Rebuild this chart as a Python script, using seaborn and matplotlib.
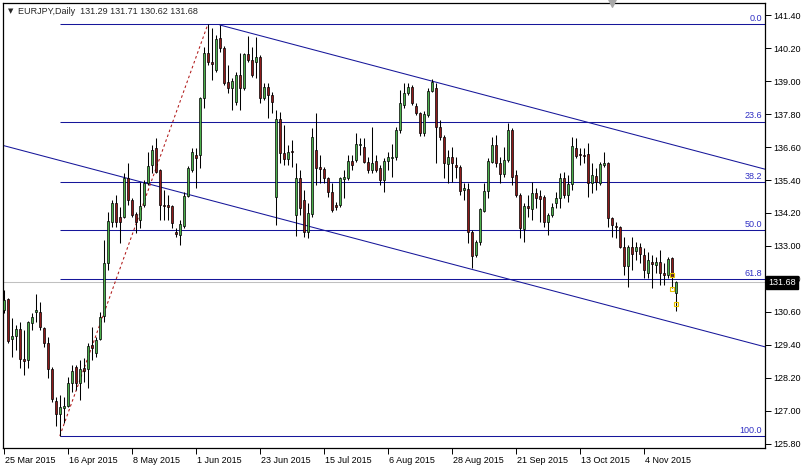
import numpy as np
import pandas as pd
import matplotlib
matplotlib.use("Agg")
import matplotlib.pyplot as plt
import matplotlib.transforms as mtransforms
import seaborn as sns

# EURJPY daily candles, 25 Mar 2015 .. 16 Nov 2015
opens = [130.67, 131.07, 129.62, 129.73, 129.98, 128.89, 128.85, 130.20, 130.60, 130.60,
         130.02, 129.47, 128.53, 127.36, 126.89, 127.11, 127.18, 128.02, 128.60, 128.02,
         128.56, 128.53, 129.40, 129.11, 129.62, 130.45, 132.38, 133.87, 134.56, 134.05,
         134.05, 135.47, 134.67, 134.16, 133.95, 134.49, 135.29, 135.95, 136.56, 135.76,
         134.49, 134.49, 134.45, 133.51, 133.40, 133.73, 134.82, 135.76, 136.31, 136.31,
         138.38, 140.02, 139.69, 139.40, 140.56, 140.20, 138.96, 138.75, 138.24, 139.22,
         138.75, 139.98, 139.76, 139.69, 139.87, 138.38, 138.78, 138.49, 134.78, 137.62,
         136.38, 136.16, 136.45, 134.13, 135.47, 134.67, 133.51, 134.16, 136.49, 135.87,
         135.80, 135.47, 134.96, 134.49, 134.49, 135.44, 135.47, 136.09, 136.13, 136.67,
         136.60, 136.05, 135.76, 136.09, 135.84, 135.40, 136.09, 136.20, 136.24, 137.22,
         138.13, 138.56, 138.78, 138.09, 137.84, 137.11, 137.76, 138.64, 138.75, 137.33,
         136.96, 135.98, 136.24, 135.95, 135.87, 135.04, 135.07, 133.51, 132.67, 133.15,
         134.27, 135.00, 136.05, 136.67, 136.02, 135.62, 136.13, 137.22, 135.58, 134.85,
         133.62, 134.45, 134.35, 134.93, 134.82, 134.78, 133.87, 134.13, 134.56, 134.75,
         135.47, 134.85, 135.25, 136.56, 136.35, 136.31, 136.35, 135.29, 135.55, 135.29,
         135.95, 136.02, 134.02, 133.73, 133.69, 132.96, 132.27, 132.96, 132.82, 132.96,
         132.67, 132.02, 132.42, 132.31, 132.42, 132.02, 131.95, 132.56, 131.29]
highs = [131.40, 131.11, 130.38, 130.13, 130.24, 129.95, 130.27, 130.56, 131.25, 130.96,
         130.05, 129.69, 128.60, 127.51, 127.58, 127.51, 128.24, 128.67, 128.67, 128.85,
         128.93, 129.47, 130.05, 129.69, 130.60, 133.22, 134.24, 134.67, 134.85, 134.42,
         135.65, 136.02, 134.75, 134.24, 135.33, 135.40, 136.42, 136.67, 136.93, 135.80,
         135.04, 134.85, 134.49, 133.65, 133.95, 134.96, 135.91, 136.56, 136.56, 138.42,
         140.24, 141.06, 140.93, 140.67, 141.04, 140.27, 139.58, 139.11, 139.33, 140.02,
         140.02, 140.64, 140.24, 140.60, 139.95, 138.93, 138.93, 138.60, 137.95, 137.87,
         137.40, 136.67, 136.85, 136.02, 135.76, 135.04, 134.56, 137.29, 137.84, 136.31,
         135.87, 135.51, 135.29, 134.60, 135.51, 135.76, 136.31, 136.31, 137.11, 136.93,
         136.93, 136.24, 137.33, 136.31, 135.95, 136.20, 136.42, 136.71, 137.33, 138.67,
         138.93, 138.93, 138.85, 138.20, 137.87, 137.91, 138.75, 139.07, 138.93, 137.58,
         137.04, 136.49, 136.60, 136.24, 135.95, 135.29, 135.29, 133.58, 133.22, 134.38,
         135.29, 136.20, 136.96, 137.04, 136.24, 136.60, 137.47, 137.29, 135.76, 134.93,
         134.56, 134.85, 135.33, 135.11, 135.04, 134.85, 134.20, 134.56, 134.96, 135.65,
         135.69, 135.58, 136.96, 136.93, 136.56, 136.56, 136.75, 136.02, 135.84, 136.05,
         136.42, 136.05, 134.05, 133.87, 133.73, 133.33, 133.04, 133.33, 133.15, 133.11,
         132.93, 132.78, 132.67, 132.60, 132.85, 132.38, 132.60, 132.60, 131.71]
lows = [130.56, 129.47, 128.96, 129.22, 128.56, 128.31, 128.56, 129.95, 130.24, 129.95,
        129.33, 128.20, 127.33, 126.45, 126.09, 126.56, 127.15, 127.69, 127.76, 127.40,
        128.05, 127.84, 128.85, 128.96, 129.58, 130.24, 132.13, 133.69, 133.69, 133.11,
        134.02, 134.49, 134.05, 133.47, 133.65, 134.42, 135.22, 135.65, 135.65, 133.95,
        133.95, 133.95, 133.65, 133.33, 133.04, 133.65, 134.78, 135.69, 135.11, 135.84,
        138.02, 139.58, 139.04, 139.33, 140.05, 138.85, 138.56, 137.95, 138.13, 137.95,
        138.67, 139.69, 139.15, 139.11, 138.20, 138.31, 137.65, 137.84, 133.76, 136.02,
        135.95, 135.95, 135.87, 133.36, 134.13, 133.33, 133.29, 134.05, 135.22, 135.29,
        135.29, 134.78, 134.24, 134.31, 134.42, 134.75, 135.40, 135.76, 136.05, 136.31,
        136.02, 135.65, 135.65, 135.69, 135.22, 134.96, 135.76, 135.51, 136.13, 137.11,
        138.02, 138.49, 138.13, 137.76, 137.00, 137.00, 137.69, 138.60, 136.02, 136.85,
        135.47, 135.29, 135.33, 135.47, 134.85, 134.67, 133.11, 132.20, 132.60, 133.04,
        134.24, 134.75, 136.02, 135.87, 135.29, 135.51, 136.05, 135.22, 134.78, 133.29,
        133.15, 134.05, 133.95, 134.38, 133.87, 133.69, 133.40, 134.05, 134.38, 134.38,
        134.75, 134.60, 135.04, 136.20, 135.95, 136.02, 134.78, 134.93, 135.04, 135.22,
        135.87, 133.69, 133.33, 133.29, 132.93, 131.95, 131.51, 132.13, 132.49, 132.38,
        131.84, 131.84, 131.47, 132.02, 131.58, 131.58, 131.84, 131.47, 130.62]
closes = [131.04, 129.55, 129.73, 129.98, 128.89, 128.82, 130.24, 130.42, 130.67, 130.05,
          129.47, 128.53, 127.44, 126.89, 127.15, 127.18, 128.02, 128.45, 128.02, 128.53,
          128.45, 129.36, 129.29, 129.58, 130.42, 132.38, 133.91, 134.56, 133.87, 133.87,
          135.47, 134.67, 134.13, 133.87, 134.45, 135.29, 135.91, 136.49, 135.69, 134.49,
          134.45, 134.42, 133.84, 133.44, 133.80, 134.82, 135.84, 136.42, 136.20, 138.38,
          140.02, 139.69, 139.62, 140.53, 140.20, 138.93, 138.75, 139.00, 139.22, 138.75,
          139.98, 139.76, 139.22, 139.87, 138.38, 138.78, 138.49, 138.24, 137.62, 136.38,
          136.16, 136.42, 136.42, 135.47, 134.38, 133.51, 134.20, 136.96, 135.84, 135.80,
          135.47, 134.96, 134.31, 134.42, 135.47, 135.51, 136.09, 135.95, 136.71, 136.71,
          136.05, 135.76, 136.02, 135.76, 135.40, 136.09, 136.24, 136.24, 137.22, 138.20,
          138.56, 138.78, 138.20, 137.84, 137.11, 137.80, 138.64, 138.96, 137.33, 136.96,
          136.02, 136.24, 136.02, 135.87, 135.00, 135.11, 133.51, 132.64, 133.15, 134.35,
          135.00, 136.09, 136.67, 136.02, 135.62, 136.13, 137.22, 135.51, 134.85, 133.65,
          134.45, 134.38, 134.93, 134.75, 134.71, 133.87, 134.13, 134.42, 134.75, 135.47,
          134.85, 135.25, 136.64, 136.27, 136.31, 136.27, 135.29, 135.58, 135.33, 135.98,
          136.02, 134.02, 133.76, 133.69, 132.96, 132.27, 132.96, 132.71, 132.96, 132.71,
          132.13, 132.49, 132.35, 132.42, 132.02, 131.95, 132.53, 131.87, 131.68]

date_labels = ["25 Mar 2015", "16 Apr 2015", "8 May 2015", "1 Jun 2015", "23 Jun 2015",
               "15 Jul 2015", "6 Aug 2015", "28 Aug 2015", "21 Sep 2015", "13 Oct 2015",
               "4 Nov 2015"]
date_bars = [0, 16, 32, 48, 64, 80, 96, 112, 128, 144, 160]
price_ticks = [125.80, 127.00, 128.20, 129.40, 130.60, 131.80, 133.00, 134.20,
               135.40, 136.60, 137.80, 139.00, 140.20, 141.40]

# fibonacci retracement, low bar -> high
fib_high = 141.06
fib_low = 126.09
fib_start = 14
fib_levels = [0.0, 23.6, 38.2, 50.0, 61.8, 100.0]

# dotted trend line (low -> high)
trend_bars = [14, 51]
trend_prices = [126.09, 141.06]

# equidistant channel anchors
upper_bars = [54, 107]
upper_prices = [141.04, 139.00]
lower_bars = [0, 117]
lower_prices = [136.65, 132.15]

# small yellow markers near the last bars
mark_bars = [167, 167, 168]
mark_prices = [131.95, 131.44, 130.89]

last_price = 131.68
header = "EURJPY,Daily  131.29 131.71 130.62 131.68"

sns.set_theme(style="white")
plt.rcParams["font.family"] = ["Liberation Sans", "DejaVu Sans"]

W, H = 804, 467
fig = plt.figure(figsize=(W / 100, H / 100), dpi=100)
ax = fig.add_axes([3 / W, 1 - 448 / H, (765 - 3) / W, (448 - 3) / H])

x_left, x_right = -0.2, 190.3
y_low, y_high = 125.65, 141.84

df = pd.DataFrame({"o": opens, "h": highs, "l": lows, "c": closes})
df["bar"] = np.arange(len(df))
up = df["c"] >= df["o"]

navy = "#16169a"
bull = "#4cb14c"
bear = "#8e1a1a"
lw1 = 0.75

# current price line
ax.axhline(last_price, color="#c0c0c0", lw=lw1, zorder=1)

# fibonacci levels
rng = fib_high - fib_low
for lev in fib_levels:
    p = fib_high - rng * lev / 100.0
    ax.hlines(p, fib_start, x_right, color=navy, lw=lw1, zorder=2)
    ax.text(x_right - 0.8, p + 0.04, f"{lev:.1f}", color="#2f2fc4",
            fontsize=6.5, ha="right", va="bottom", zorder=5)

# channel lines, extended to the right edge
def extend(bars, prices, start):
    k = (prices[1] - prices[0]) / (bars[1] - bars[0])
    xs = [start, x_right]
    ys = [prices[0] + k * (x - bars[0]) for x in xs]
    return pd.DataFrame({"x": xs, "y": ys})

up_df = extend(upper_bars, upper_prices, upper_bars[0])
lo_df = extend(lower_bars, lower_prices, x_left)
sns.lineplot(data=up_df, x="x", y="y", color=navy, lw=lw1, ax=ax, zorder=2)
sns.lineplot(data=lo_df, x="x", y="y", color=navy, lw=lw1, ax=ax, zorder=2)

# dotted trend line
tr = pd.DataFrame({"x": trend_bars, "y": trend_prices})
sns.lineplot(data=tr, x="x", y="y", color="#b01818", lw=lw1,
             linestyle=(0, (2.5, 2.5)), ax=ax, zorder=2)

# candles
ax.vlines(df["bar"], df["l"], df["h"], color="black", lw=lw1, zorder=3)
ax.bar(df["bar"][up], (df["c"] - df["o"])[up], bottom=df["o"][up], width=0.62,
       color=bull, edgecolor="black", lw=0.5, zorder=4)
ax.bar(df["bar"][~up], (df["c"] - df["o"])[~up], bottom=df["o"][~up], width=0.62,
       color=bear, edgecolor="black", lw=0.5, zorder=4)

ax.scatter(mark_bars, mark_prices, marker="s", s=9, facecolors="none",
           edgecolors="#e6c200", linewidths=0.8, zorder=5)

ax.set_xlim(x_left, x_right)
ax.set_ylim(y_low, y_high)
ax.set_xlabel("")
ax.set_ylabel("")

ax.set_xticks(date_bars)
ax.set_xticklabels(date_labels, ha="left")
ax.yaxis.tick_right()
ax.set_yticks(price_ticks)
ax.set_yticklabels([f"{p:.2f}" for p in price_ticks])
ax.tick_params(axis="x", direction="out", length=4, width=0.7, pad=1.5,
               labelsize=6.5, colors="black", bottom=True)
ax.tick_params(axis="y", direction="out", length=4, width=0.7, pad=2,
               labelsize=6.5, colors="black", right=True, left=False)
offset = mtransforms.ScaledTranslation(1 / 100, 0, fig.dpi_scale_trans)
for lbl in ax.get_xticklabels():
    lbl.set_transform(lbl.get_transform() + offset)

for s in ax.spines.values():
    s.set_color("black")
    s.set_linewidth(0.9)

# header
ax.text(0.006, 0.982, "\u25bc", transform=ax.transAxes, fontsize=5,
        family=["DejaVu Sans"], va="center", ha="left")
ax.text(0.02, 0.982, header, transform=ax.transAxes, fontsize=6.5,
        va="center", ha="left")

# chart shift marker
ax.scatter([152], [1.0], marker="v", s=30, color="#a8a8a8",
           transform=mtransforms.blended_transform_factory(ax.transData, ax.transAxes),
           clip_on=False, zorder=6)

# last price box on the price scale (covers the 131.80 label, as in MT4)
fx, fy = fig.transFigure.inverted().transform(ax.transData.transform((x_right, last_price)))
fig.text(fx + 3 / W, fy, f"{last_price:.2f}", color="white", fontsize=6.5,
         va="center", ha="left",
         bbox=dict(boxstyle="square,pad=0.25", fc="black", ec="black"))

fig.savefig("out.png", dpi=100)
